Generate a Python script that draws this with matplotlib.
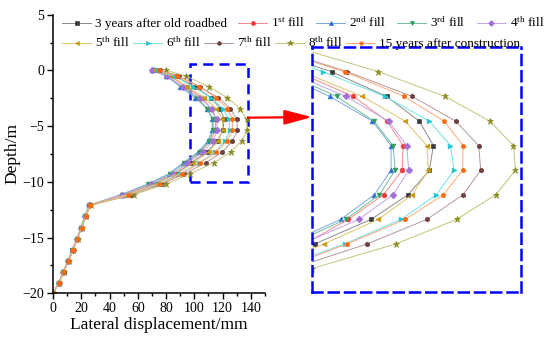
import matplotlib.pyplot as plt
from matplotlib.patches import Rectangle, ConnectionPatch

plt.rcParams['font.family'] = ['Liberation Serif', 'DejaVu Serif']
plt.rcParams['mathtext.fontset'] = 'custom'
plt.rcParams['mathtext.rm'] = 'Liberation Serif'
plt.rcParams['mathtext.it'] = 'Liberation Serif:italic'

# depth of the measuring points (m)
depth = [0, -0.5, -1.46, -2.44, -3.42, -4.39, -5.37, -6.34, -7.32, -8.29, -9.27,
         -10.2, -11.15, -12.1, -13.1, -14.1, -15.1, -16.1, -17.1, -18.1, -19.1, -20]

# lateral displacement (mm), one list per stage
yr3 = [73, 86, 100.9, 111.8, 118.3, 121.1, 120.3, 116.1, 108.7, 97.6, 87, 71, 51,
       25.5, 22.4, 19.8, 16.8, 13.7, 10.4, 7.1, 3.9, 0]
fill1 = [72, 83, 94, 105.2, 111.9, 115.1, 114.9, 111.2, 104.2, 95.5, 85, 69, 50,
         26.0, 22.8, 20.1, 17.1, 14.0, 10.7, 7.4, 4.1, 0]
fill2 = [70, 80, 90, 100.5, 109.0, 112.7, 112.7, 109.4, 102.7, 92, 82, 67, 48,
         25.6, 22.5, 19.9, 16.9, 13.8, 10.5, 7.2, 4.0, 0]
fill3 = [71, 81, 91, 101.9, 109.3, 113.1, 113.5, 110.4, 103.7, 93, 83, 67.5, 48.5,
         25.7, 22.6, 20.0, 17.0, 13.9, 10.6, 7.3, 4.0, 0]
fill4 = [70, 81, 92, 103.7, 112.2, 115.8, 116.2, 113.1, 106.3, 95, 85, 69, 49,
         25.8, 22.7, 20.0, 17.0, 13.9, 10.6, 7.3, 4.0, 0]
fill5 = [72, 84, 95, 107.0, 115.5, 119.8, 120.1, 116.9, 110.2, 99.4, 88, 72, 52,
         25.9, 22.7, 20.1, 17.1, 14.0, 10.7, 7.4, 4.1, 0]
fill6 = [74, 86, 99.1, 111.5, 120.3, 124.5, 125.2, 121.7, 114.7, 103.5, 90, 74, 53,
         26.1, 22.9, 20.2, 17.2, 14.1, 10.8, 7.4, 4.1, 0]
fill7 = [76, 89, 104, 116.9, 125.5, 130.1, 130.5, 127.0, 119.8, 108.0, 93, 77, 55,
         26.4, 23.1, 20.3, 17.3, 14.2, 10.9, 7.5, 4.2, 0]
fill8 = [80, 94, 110.2, 123.4, 132.3, 137.0, 137.4, 133.5, 125.7, 113.7, 97, 80, 57,
         26.8, 23.4, 20.5, 17.4, 14.3, 11.0, 7.6, 4.2, 0]
yr15 = [75, 88, 103.5, 115.3, 123.2, 127.0, 126.9, 123.1, 115.5, 104.0, 91, 75, 53,
        26.2, 23.0, 20.2, 17.2, 14.1, 10.8, 7.4, 4.1, 0]

series = [yr3, fill1, fill2, fill3, fill4, fill5, fill6, fill7, fill8, yr15]
labels = ['3 years after old roadbed', r'1$^{\mathrm{st}}$ fill', r'2$^{\mathrm{nd}}$ fill',
          r'3$^{\mathrm{rd}}$ fill', r'4$^{\mathrm{th}}$ fill', r'5$^{\mathrm{th}}$ fill',
          r'6$^{\mathrm{th}}$ fill', r'7$^{\mathrm{th}}$ fill', r'8$^{\mathrm{th}}$ fill',
          '15 years after construction']
markers = ['s', 'o', '^', 'v', 'D', '<', '>', 'h', '*', 'p']
mcolors = ['#3c3c3c', '#f03c3c', '#2a6fdb', '#2e9e5e', '#a070d8',
           '#c89a10', '#18c8d0', '#6e4040', '#8a8a20', '#ff6a10']
lcolors = ['#8a8a8a', '#f58a8a', '#7aa6ea', '#70c094', '#c3a3ea',
           '#e2c46a', '#6fe3e8', '#b59898', '#c4c478', '#ffa878']

zoom_x = (97, 138)
zoom_y = (-10, 0.6)

fig = plt.figure(figsize=(5.5, 3.42), dpi=100)
ax = fig.add_axes([53 / 550, 1 - 293.3 / 342, 212 / 550, 278.6 / 342])
ax2 = fig.add_axes([312 / 550, 1 - 292 / 342, 209 / 550, 245 / 342])

handles = []
for vals, lab, m, mc, lc in zip(series, labels, markers, mcolors, lcolors):
    msz = 4.8 if m == '*' else 3.4
    h, = ax.plot(vals, depth, color=lc, lw=0.7, marker=m, ms=msz,
                 mfc=mc, mec=mc, mew=0.5, label=lab)
    ax2.plot(vals, depth, color=lc, lw=0.7, marker=m, ms=msz,
             mfc=mc, mec=mc, mew=0.5)
    handles.append(h)

# main axes
ax.set_xlim(0, 150)
ax.set_ylim(-20, 5)
ax.set_xticks(range(0, 141, 20))
ax.set_xticks(range(0, 151, 10), minor=True)
ax.set_yticks(range(-20, 6, 5))
ax.set_yticks([-20 + 2.5 * i for i in range(11)], minor=True)
ax.spines['top'].set_visible(False)
ax.spines['right'].set_visible(False)
for s in ['left', 'bottom']:
    ax.spines[s].set_linewidth(1.1)
ax.tick_params(which='major', length=4.5, width=1.0, labelsize=10, pad=2)
ax.tick_params(which='minor', length=2.5, width=1.0)
ax.set_xlabel('Lateral displacement/mm', fontsize=12.5, labelpad=1)
ax.set_ylabel('Depth/m', fontsize=12.5, labelpad=1)

# zoom window on the main plot
ax.add_patch(Rectangle((zoom_x[0], zoom_y[0]), zoom_x[1] - zoom_x[0], zoom_y[1] - zoom_y[0],
                       fill=False, ec='#0000ff', lw=1.8, ls=(0, (4, 2.5)), clip_on=False))

# inset
ax2.set_xlim(97, 138.5)
ax2.set_ylim(-10.2, -0.48)
ax2.set_xticks([])
ax2.set_yticks([])
for s in ax2.spines.values():
    s.set_color('#0000ff')
    s.set_linewidth(1.8)
    s.set_linestyle((0, (4, 2.5)))

arrow = ConnectionPatch(xyA=(zoom_x[1], -4.24), coordsA=ax.transData,
                        xyB=(0, 0.714), coordsB=ax2.transAxes,
                        arrowstyle='-|>,head_length=1.2,head_width=0.32',
                        mutation_scale=14, color='red', lw=1.6)
fig.add_artist(arrow)

leg_kw = dict(frameon=False, fontsize=9.5, ncol=5, borderpad=0, borderaxespad=0,
              handlelength=2.2, handletextpad=0.3, loc='center left', markerscale=0.85)
fig.legend(handles=handles[:5], bbox_to_anchor=(62 / 550, 1 - 23 / 342),
           columnspacing=0.85, **leg_kw)
fig.legend(handles=handles[5:], bbox_to_anchor=(62 / 550, 1 - 43 / 342),
           columnspacing=0.25, **leg_kw)

fig.savefig('out.png', dpi=100)
